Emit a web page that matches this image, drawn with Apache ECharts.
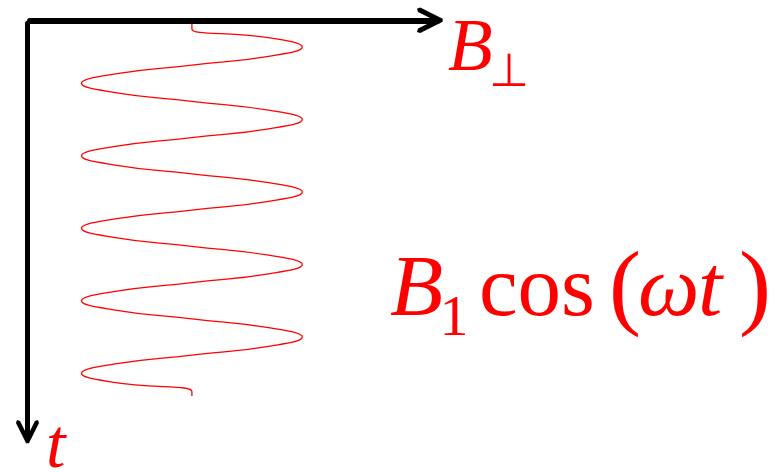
<!DOCTYPE html>
<html>
<head>
<meta charset="utf-8">
<script src="https://cdn.jsdelivr.net/npm/echarts@6/dist/echarts.min.js"></script>
<style>
  html, body { margin: 0; padding: 0; background: #ffffff; }
  #chart { width: 778px; height: 472px; }
</style>
</head>
<body>
<div id="chart"></div>
<script>
// Time samples (in oscillation periods), t grows downwards
const timeSteps = [
  -0.068, 0,
  0.125, 0.25, 0.375, 0.5, 0.625, 0.75, 0.875, 1,
  1.125, 1.25, 1.375, 1.5, 1.625, 1.75, 1.875, 2,
  2.125, 2.25, 2.375, 2.5, 2.625, 2.75, 2.875, 3,
  3.125, 3.25, 3.375, 3.5, 3.625, 3.75, 3.875, 4,
  4.125, 4.25, 4.375, 4.5, 4.625, 4.75, 4.875, 5,
  5.064
];
// Transverse field B_perp at each sample, in units of B1
const fieldValues = [
  0, 0,
  0.71, 1, 0.71, 0, -0.71, -1, -0.71, 0,
  0.71, 1, 0.71, 0, -0.71, -1, -0.71, 0,
  0.71, 1, 0.71, 0, -0.71, -1, -0.71, 0,
  0.71, 1, 0.71, 0, -0.71, -1, -0.71, 0,
  0.71, 1, 0.71, 0, -0.71, -1, -0.71, 0,
  0
];
// Axis extents
const fieldRange = [-1.4665, 2.222];
const timeRange = [-0.0772, 5.647];

// Open chevron arrow head, pointing up in its own frame
const chevron = 'path://M-1.545,0 L1.545,0 L12.736,22.382 L11.618,25.736 L8.264,24.618 L0,8.09 ' +
  'L-8.264,24.618 L-11.618,25.736 L-12.736,22.382 Z';

const red = '#ff0000';
const chart = echarts.init(document.getElementById('chart'), null, { renderer: 'canvas' });

const serif = '"Liberation Serif", "DejaVu Serif", serif';
function label(text, x, y, size, italic, family) {
  return {
    type: 'text',
    x: x, y: y,
    silent: true,
    style: {
      text: text,
      font: (italic ? 'italic ' : '') + size + 'px ' + (family || serif),
      fill: red,
      align: 'left',
      verticalAlign: 'top'
    }
  };
}

chart.setOption({
  animation: false,
  backgroundColor: '#ffffff',
  grid: { left: 30, top: 23.3, right: 340.8, bottom: 33.7, containLabel: false },
  xAxis: {
    type: 'value',
    position: 'top',
    offset: 3,
    min: fieldRange[0],
    max: fieldRange[1],
    axisLine: {
      show: true,
      onZero: false,
      symbol: ['none', chevron],
      symbolSize: [25.47, 25.74],
      symbolOffset: [0, -7.4],
      lineStyle: { color: '#000000', width: 6 }
    },
    axisTick: { show: false },
    axisLabel: { show: false },
    splitLine: { show: false }
  },
  yAxis: {
    type: 'value',
    inverse: true,
    position: 'left',
    offset: 2.5,
    min: timeRange[0],
    max: timeRange[1],
    axisLine: {
      show: true,
      onZero: false,
      // the inverted axis starts at the bottom, so the arrow sits on the start end
      symbol: [chevron, 'none'],
      symbolSize: [23, 23.25],
      symbolOffset: [6.6, 0],
      lineStyle: { color: '#000000', width: 5 }
    },
    axisTick: { show: false },
    axisLabel: { show: false },
    splitLine: { show: false }
  },
  series: [{
    type: 'line',
    data: timeSteps.map((t, i) => [fieldValues[i], t]),
    showSymbol: false,
    symbol: 'none',
    smooth: true,
    clip: false,
    lineStyle: { color: red, width: 1.3 }
  }],
  graphic: [
    // axis names
    label('B', 448, 13.9, 73, true),
    label('\u22A5', 489, 51, 46, false, '"DejaVu Sans", sans-serif'),
    label('t', 46, 413.4, 70, true),
    // B1 cos(wt)
    label('B', 390, 248.6, 87, true),
    label('1', 439.5, 290.4, 58, false),
    label('cos', 479, 248.6, 87, false),
    label('(', 609, 243.6, 96, false),
    label('\u03C9', 638, 248.6, 87, true),
    label('t', 698, 248.6, 87, true),
    label(')', 739, 243.6, 96, false)
  ]
});
</script>
</body>
</html>
